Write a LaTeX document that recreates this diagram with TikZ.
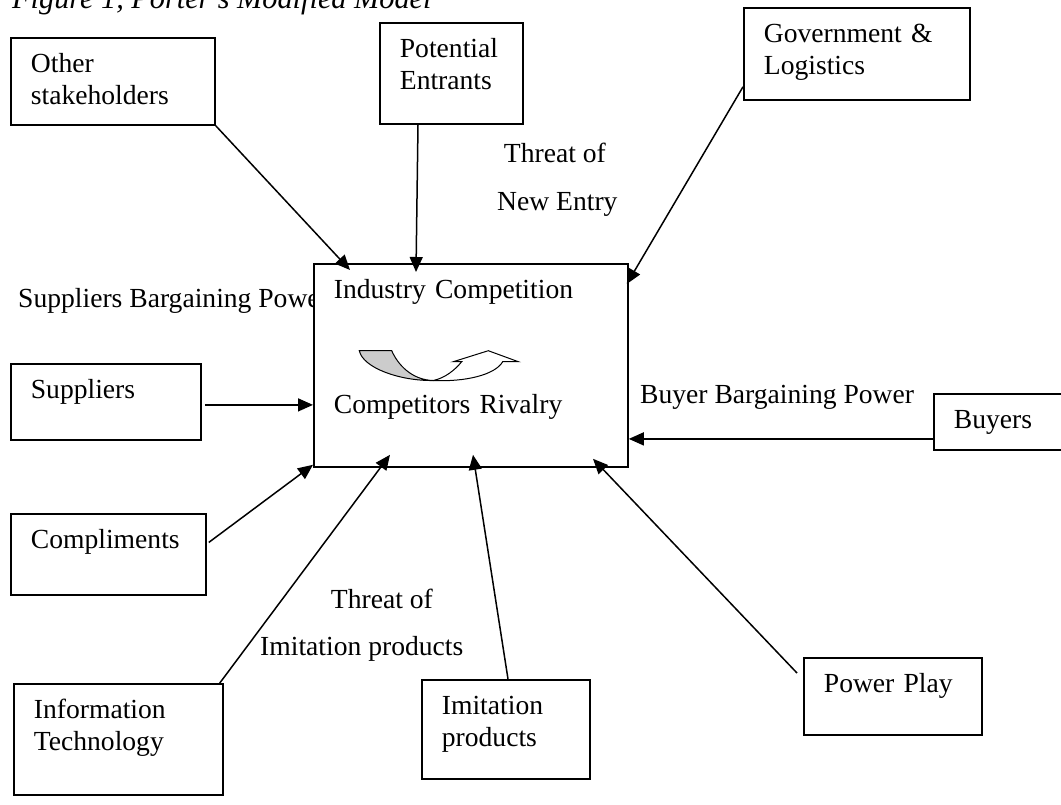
\documentclass[tikz,border=0pt]{standalone}
\usepackage{fontspec}
\setmainfont{Liberation Serif}
\usetikzlibrary{arrows.meta}

\newcommand{\labelsize}{\fontsize{27.6pt}{31.6pt}\selectfont}
\newcommand{\titlesize}{\fontsize{30.3pt}{34pt}\selectfont}
\definecolor{crescent}{gray}{0.8}

\begin{document}
\begin{tikzpicture}[
    x=1pt, y=-1pt,
    every node/.append style={font=\labelsize},
    forcebox/.style={draw, line width=1.8pt, anchor=north west, align=left,
      inner xsep=20pt, inner ysep=0pt, text height=35pt},
    conn/.style={line width=1.5pt, -{Triangle[length=15pt,width=13pt]}},
    freetext/.style={inner sep=0pt, anchor=base west, align=left},
  ]
  \useasboundingbox (0,0) rectangle (1061,804);

  \node[freetext, font=\titlesize\itshape] (title) at (12,8) {Figure 1, Porter's Modified Model};

  \node[forcebox, text width=164pt, text depth=52pt] (others) at (10,37) {Other\\stakeholders};
  \node[forcebox, text width=103pt, text depth=66pt] (entrants) at (379,22) {Potential\\Entrants};
  \node[forcebox, text width=186pt, text depth=57pt] (govern) at (743,7) {Government \&\\Logistics};
  \node[forcebox, text width=150pt, text depth=41pt] (suppliers) at (10,363) {Suppliers};
  \node[forcebox, text width=110pt, text depth=21pt] (buyers) at (933,393) {Buyers};
  \node[forcebox, text width=155pt, text depth=46pt] (compl) at (10,513) {Compliments};
  \node[forcebox, text width=169pt, text depth=76pt] (itech) at (13,683) {Information\\Technology};
  \node[forcebox, text width=128pt, text depth=64pt] (imit) at (421,679) {Imitation\\products};
  \node[forcebox, text width=138pt, text depth=42pt] (power) at (803,657) {Power Play};

  \node[freetext] (supplabel) at (18,307) {Suppliers Bargaining Power};
  \node[freetext] (buylabel) at (640,403) {Buyer Bargaining Power};
  \node[freetext] (entrylabel) at (497,210) {\hspace*{6.7pt}Threat of\\[16.4pt]New Entry};
  \node[freetext] (imitlabel) at (260,655) {\hspace*{70.7pt}Threat of\\[15.4pt]Imitation products};

  \node[forcebox, fill=white, text width=274pt, text depth=168pt] (rival) at (313,263)
    {Industry Competition\\[83.4pt]Competitors Rivalry};

  % u-turn arrow inside the rivalry box
  \draw[line width=1pt, fill=crescent] (359.3,350.7) -- (391.7,350.7)
    .. controls (398,365) and (412,380) .. (433.3,380.5)
    .. controls (400,381) and (363,368) .. cycle;
  \draw[line width=1pt, fill=white] (433.3,380.5)
    .. controls (445,378) and (455,370) .. (461.7,361.7)
    -- (453.3,361.7) -- (488.3,350.7) -- (518.3,361.7) -- (502.7,361.7)
    .. controls (495,375) and (465,382) .. cycle;

  \draw[conn] (others.south east) -- ([xshift=37pt,yshift=-7pt]rival.north west);
  \draw[conn] ([xshift=39pt]entrants.south west) -- ([xshift=103pt,yshift=-9pt]rival.north west);
  \draw[conn] ([yshift=14pt]govern.south west) -- ([xshift=-2pt,yshift=-21pt]rival.north east);
  \draw[conn] ([xshift=3pt,yshift=-3pt]suppliers.east) -- ([yshift=-3pt]suppliers.east -| rival.west);
  \draw[conn] ([yshift=-17pt]buyers.west) -- ([yshift=-17pt]buyers.west -| rival.east);
  \draw[conn] ([xshift=2pt,yshift=12pt]compl.east) -- ([yshift=3pt]rival.south west);
  \draw[conn] ([xshift=-4pt]itech.north east) -- ([xshift=77pt,yshift=13pt]rival.south west);
  \draw[conn] ([xshift=87pt]imit.north west) -- ([xshift=160pt,yshift=13pt]rival.south west);
  \draw[conn] ([xshift=-6pt,yshift=-16pt]power.north west) -- ([xshift=280pt,yshift=9pt]rival.south west);
\end{tikzpicture}
\end{document}
